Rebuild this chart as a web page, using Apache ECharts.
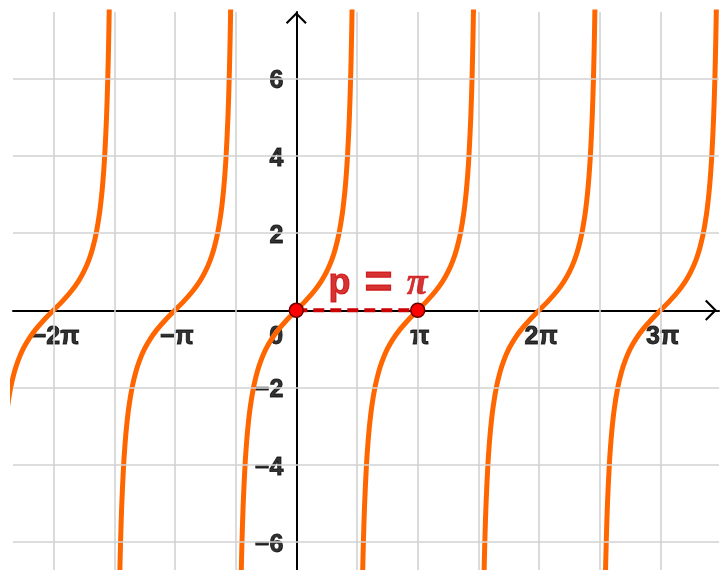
<!DOCTYPE html>
<html>
<head>
<meta charset="utf-8">
<script src="https://cdn.jsdelivr.net/npm/echarts@6/dist/echarts.min.js"></script>
<style>
  html, body { margin: 0; padding: 0; background: #ffffff; }
  #chart { width: 727px; height: 570px; }
</style>
</head>
<body>
<div id="chart"></div>
<script>
// One branch of y = tan x around its centre: horizontal offset from the centre and height
const branchDX = [-1.460139, -1.446441, -1.428899, -1.405648, -1.373401, -1.325818, -1.292497,
  -1.249046, -1.190290, -1.107149, -1.012197, -0.915101, -0.785398, -0.643501, -0.463648,
  -0.244979, 0, 0.244979, 0.463648, 0.643501, 0.785398, 0.915101, 1.012197, 1.107149,
  1.190290, 1.249046, 1.292497, 1.325818, 1.373401, 1.405648, 1.428899, 1.446441, 1.460139];
const branchY = [-9, -8, -7, -6, -5, -4, -3.5, -3, -2.5, -2, -1.6, -1.3, -1, -0.75, -0.5,
  -0.25, 0, 0.25, 0.5, 0.75, 1, 1.3, 1.6, 2, 2.5, 3, 3.5, 4, 5, 6, 7, 8, 9];

// Branch centres, in multiples of pi
const branchCentres = [-2, -1, 0, 1, 2, 3];

// Grid lines: vertical every half pi, horizontal every 2 units
const gridHalfPi = [-4, -3, -2, -1, 1, 2, 3, 4, 5, 6];
const gridY = [-6, -4, -2, 2, 4, 6];

// Axis labels
const xTickPi = [-2, -1, 1, 2, 3];
const xTickText = ['\u22122\u03c0', '\u2212\u03c0', '\u03c0', '2\u03c0', '3\u03c0'];
const yTickValues = [-6, -4, -2, 2, 4, 6];
const yTickText = ['\u22126', '\u22124', '\u22122', '2', '4', '6'];

// Period marker from 0 to pi
const periodStart = 0;
const periodEnd = 1; // in multiples of pi

const PI = Math.PI;
const ORANGE = '#ff6600';
const DARK_RED = '#cc0000';
const labelFont = {
  fontFamily: '"Liberation Sans", Arial, sans-serif', fontWeight: 'bold', fontSize: 25,
  color: '#000000', textBorderColor: '#000000', textBorderWidth: 0.9
};

const chevron = 'path://M0,0 L11,11 L9.4,12.6 L0,3.2 L-9.4,12.6 L-11,11 Z';

const series = [];

// light grid
series.push({
  type: 'line',
  data: [],
  silent: true,
  z: 0,
  markLine: {
    silent: true,
    symbol: 'none',
    animation: false,
    label: { show: false },
    lineStyle: { color: '#d2d2d2', width: 1.6, type: 'solid' },
    data: gridHalfPi.map(k => ({ xAxis: k * PI / 2 }))
      .concat(gridY.map(v => ({ yAxis: v })))
  }
});

// x-axis labels
series.push({
  type: 'scatter',
  z: 1,
  symbolSize: 1,
  itemStyle: { color: 'rgba(0,0,0,0)' },
  silent: true,
  data: xTickPi.map((k, i) => ({
    value: [k * PI, 0],
    label: Object.assign({ show: true, formatter: xTickText[i], position: 'inside', offset: [2, 27] }, labelFont)
  })).concat([{
    value: [0, 0],
    label: Object.assign({ show: true, formatter: '0', position: 'inside', offset: [-20, 27] }, labelFont)
  }])
});

// y-axis labels
series.push({
  type: 'scatter',
  z: 1,
  symbolSize: 1,
  itemStyle: { color: 'rgba(0,0,0,0)' },
  silent: true,
  data: yTickValues.map((v, i) => ({
    value: [0, v],
    label: Object.assign({ show: true, formatter: yTickText[i], position: 'inside', align: 'right', offset: [-13, 3] }, labelFont)
  }))
});

// tangent branches
branchCentres.forEach(c => {
  series.push({
    type: 'line',
    z: 3,
    symbol: 'none',
    smooth: 0.3,
    clip: true,
    silent: true,
    lineStyle: { color: ORANGE, width: 5 },
    data: branchDX.map((dx, i) => [c * PI + dx, branchY[i]])
  });
});

// period segment with its end points
series.push({
  type: 'line',
  z: 5,
  symbol: 'circle',
  symbolSize: 14,
  showAllSymbol: true,
  silent: true,
  lineStyle: { color: DARK_RED, width: 4, type: [11, 6] },
  itemStyle: { color: '#ff0000', borderColor: '#6a0000', borderWidth: 1.5 },
  data: [[periodStart * PI, 0], [periodEnd * PI, 0]]
});

// period caption
const captionSans = { fontFamily: '"Liberation Sans", Arial, sans-serif', fontWeight: 'bold', fontSize: 36,
  color: DARK_RED, textBorderColor: DARK_RED, textBorderWidth: 1 };
series.push({
  type: 'scatter',
  z: 6,
  symbolSize: 1,
  itemStyle: { color: 'rgba(0,0,0,0)' },
  silent: true,
  data: [{
    value: [(periodStart + periodEnd) * PI / 2, 0],
    label: {
      show: true,
      position: 'inside',
      offset: [21, -26],
      formatter: '{p|p}{eq|=}{pi|\u03c0}',
      rich: {
        p: Object.assign({ padding: [0, 14, 0, 0] }, captionSans),
        eq: Object.assign({}, captionSans, { fontSize: 48, textBorderWidth: 1.2 }),
        pi: { fontFamily: '"Liberation Serif", serif', fontStyle: 'italic', fontWeight: 'bold', fontSize: 38,
          color: DARK_RED, textBorderColor: DARK_RED, textBorderWidth: 0.6, padding: [0, 0, 0, 14] }
      }
    }
  }]
});

const chart = echarts.init(document.getElementById('chart'), null, { renderer: 'canvas' });
chart.setOption({
  animation: false,
  backgroundColor: '#ffffff',
  grid: { left: 13, right: 8, top: 12, bottom: 0, containLabel: false },
  xAxis: {
    type: 'value',
    min: -7.330,
    max: 10.937,
    z: 2,
    splitLine: { show: false },
    axisTick: { show: false },
    axisLabel: { show: false },
    axisLine: {
      show: true,
      onZero: true,
      lineStyle: { color: '#000000', width: 2 },
      symbol: ['none', chevron],
      symbolSize: [22, 12],
      symbolOffset: [0, -8]
    }
  },
  yAxis: {
    type: 'value',
    min: -6.719,
    max: 7.718,
    z: 2,
    splitLine: { show: false },
    axisTick: { show: false },
    axisLabel: { show: false },
    axisLine: {
      show: true,
      onZero: true,
      lineStyle: { color: '#000000', width: 2 },
      symbol: ['none', chevron],
      symbolSize: [22, 12],
      symbolOffset: [0, -6]
    }
  },
  series: series
});
</script>
</body>
</html>
